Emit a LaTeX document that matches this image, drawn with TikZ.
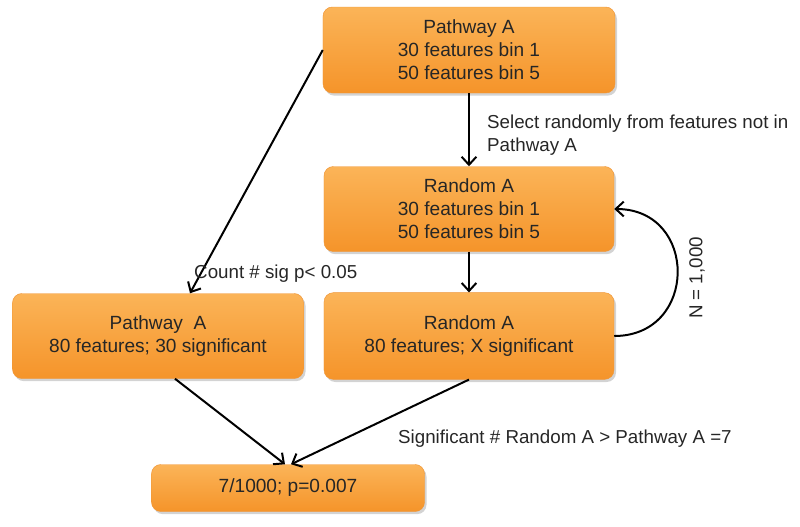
\documentclass[tikz,border=0pt]{standalone}
\usepackage{fontspec}
\setmainfont{Liberation Sans}
\usetikzlibrary{arrows.meta,calc,shadows}
\definecolor{orTop}{RGB}{251,180,88}
\definecolor{orBot}{RGB}{245,148,42}
\definecolor{orEdge}{RGB}{240,150,55}
\begin{document}
\begin{tikzpicture}[x=0.03cm,y=-0.03cm,
  box/.style={rounded corners=8pt,align=center,inner sep=2pt,
    top color=orTop,bottom color=orBot,draw=orEdge,line width=0.4pt,text=black!85,
    drop shadow={opacity=0.35,shadow xshift=0.6mm,shadow yshift=-0.8mm},
    font=\fontsize{16.3}{19.5}\selectfont},
  lbl/.style={font=\fontsize{16}{19}\selectfont,inner sep=0pt,text=black!85},
  arr/.style={->,line width=1.7pt},
  >={Straight Barb[length=2.4mm,width=4.4mm]}]
\useasboundingbox (0,0) rectangle (800,527);
% boxes
\node[box,minimum width=8.76cm,minimum height=2.58cm] (pwtop) at (469,50) {Pathway A\\30 features bin 1\\50 features bin 5};
\node[box,minimum width=8.7cm,minimum height=2.55cm] (rand1) at (469,209) {Random A\\30 features bin 1\\50 features bin 5};
\node[box,minimum width=8.7cm,minimum height=2.6cm] (rand2) at (469,336) {Random A\\80 features; X significant};
\node[box,minimum width=8.73cm,minimum height=2.55cm] (pwsig) at (158,336) {Pathway\ \ A\\80 features; 30 significant};
\node[box,minimum width=8.19cm,minimum height=1.41cm] (res) at (288,488) {7/1000; p=0.007};
% arrows
\draw[arr] (pwtop.south) -- (rand1.north);
\draw[arr] (rand1) -- (rand2);
\draw[arr] (pwtop.west) -- ($(pwsig.north)+(32,0)$);
\draw[arr] ($(pwsig.south)+(17,0)$) -- ($(res.north)+(-3,0)$);
\draw[arr] (rand2.south) -- ($(res.north)+(3,0)$);
\draw[arr] (rand2.east) to[out=0,in=0,looseness=1.7] (rand1.east);
% labels
\node[lbl,anchor=north west,align=left] (selnote) at (487,115) {Select randomly from features not in\\Pathway A};
\node[lbl,anchor=base west] (countnote) at (194,278) {Count \# sig p< 0.05};
\node[lbl,anchor=base west] (signote) at (398,443) {Significant \# Random A > Pathway A =7};
\node[lbl,rotate=90] (nnote) at (697,278) {N = 1,000};
\end{tikzpicture}
\end{document}
